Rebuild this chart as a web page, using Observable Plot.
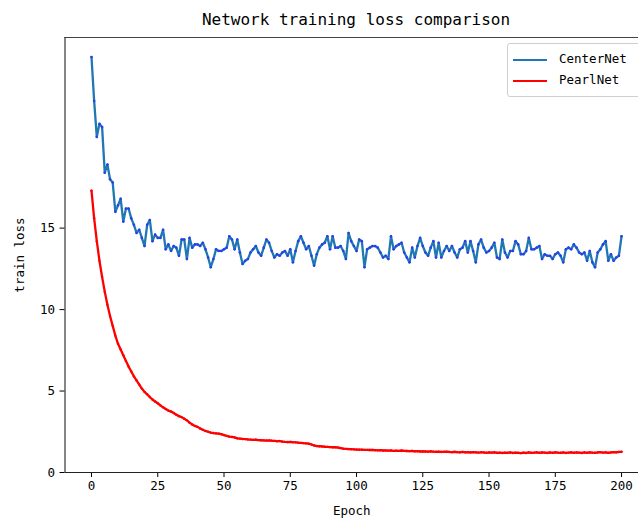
<!DOCTYPE html>
<html>
<head>
<meta charset="utf-8">
<script src="https://cdn.jsdelivr.net/npm/d3@7"></script>
<script src="https://cdn.jsdelivr.net/npm/@observablehq/plot@0.6"></script>
<style>
  html, body { margin: 0; padding: 0; background: #fff; }
  #wrap { position: relative; width: 638px; height: 520px; overflow: hidden; font-family: "DejaVu Sans Mono", monospace; }
  #title { position: absolute; left: 64px; width: 584px; top: 9px; text-align: center; font-size: 16px; line-height: 22px; color: #000; }
  #legend { position: absolute; left: 507px; top: 43px; width: 150px; height: 52px; border: 1px solid #cfcfcf; border-radius: 3px; background: rgba(255,255,255,0.85); font-size: 12.5px; }
  .item { position: absolute; left: 0; height: 20px; }
  .swatch { position: absolute; left: 5px; width: 34px; height: 2px; }
  .lab { position: absolute; left: 51px; top: -8px; line-height: 16px; white-space: nowrap; }
</style>
</head>
<body>
<div id="wrap">
  <div id="chart"></div>
  <div id="title"></div>
  <div id="legend"></div>
</div>
<script>
// ---- data ----
const titleText = "Network training loss comparison";
const xLabel = "Epoch";
const yLabel = "train loss";
const seriesNames = ["CenterNet", "PearlNet"];
const seriesColors = ["#1f77b4", "#ff0000"];
const xTicks = [0, 25, 50, 75, 100, 125, 150, 175, 200];
const yTicks = [0, 5, 10, 15];

const centerNetLoss = [
  25.5, 22.8, 20.6, 21.4, 21.2, 18.4, 18.9, 18.0, 17.8, 16.0,
  16.4, 16.8, 15.4, 16.2, 16.2, 15.6, 15.2, 14.7, 14.9, 14.4,
  13.9, 15.2, 15.5, 14.2, 14.6, 14.4, 14.4, 14.9, 13.7, 14.0,
  13.6, 13.9, 13.8, 13.3, 14.3, 14.3, 13.1, 14.4, 13.8, 14.0,
  14.0, 13.9, 14.1, 13.7, 13.2, 12.6, 13.1, 13.7, 13.6, 13.6,
  13.7, 13.8, 14.5, 14.3, 13.7, 14.3, 13.5, 12.8, 13.0, 13.1,
  13.5, 13.7, 13.9, 13.5, 13.3, 13.8, 14.3, 14.1, 13.6, 13.2,
  13.4, 13.3, 13.5, 13.6, 13.3, 13.7, 12.9, 13.6, 14.2, 14.5,
  14.1, 13.7, 13.9, 13.3, 12.7, 13.4, 13.8, 14.0, 14.1, 14.5,
  13.7, 14.5, 13.8, 13.8, 13.9, 13.6, 13.1, 14.7, 14.2, 13.9,
  13.6, 14.3, 14.2, 12.6, 13.7, 13.8, 13.9, 13.9, 13.8, 13.5,
  13.2, 13.3, 13.1, 14.5, 13.7, 13.9, 14.0, 14.1, 13.5, 13.2,
  12.9, 13.8, 13.2, 13.9, 14.4, 13.9, 13.5, 13.3, 13.8, 14.2,
  13.2, 14.1, 13.2, 13.6, 13.9, 13.6, 13.9, 13.5, 13.2, 13.7,
  13.8, 14.2, 13.5, 14.2, 13.6, 12.9, 14.0, 14.3, 13.8, 13.5,
  13.6, 13.8, 14.1, 13.2, 13.1, 14.3, 13.5, 13.2, 13.6, 13.6,
  14.2, 14.0, 13.4, 13.4, 13.6, 14.4, 13.7, 13.7, 13.8, 13.9,
  13.1, 13.4, 13.3, 13.3, 13.1, 13.4, 13.5, 13.3, 12.9, 13.7,
  13.8, 13.7, 14.0, 13.8, 13.5, 13.4, 13.5, 13.0, 13.6, 12.9,
  12.6, 13.5, 13.7, 14.0, 14.2, 13.0, 13.4, 13.0, 13.2, 13.3,
  14.5
];

const pearlNetLoss = [
  17.3, 15.6, 14.2, 13.0, 12.0, 11.1, 10.3, 9.6, 9.0, 8.4,
  7.9, 7.55, 7.2, 6.85, 6.5, 6.2, 5.9, 5.65, 5.4, 5.15,
  4.95, 4.8, 4.63, 4.48, 4.36, 4.25, 4.12, 4.0, 3.9, 3.8,
  3.74, 3.65, 3.55, 3.46, 3.4, 3.3, 3.2, 3.06, 2.95, 2.86,
  2.8, 2.7, 2.62, 2.55, 2.5, 2.45, 2.42, 2.4, 2.38, 2.35,
  2.3, 2.25, 2.2, 2.18, 2.15, 2.1, 2.08, 2.06, 2.05, 2.03,
  2.02, 2.0, 2.01, 1.99, 1.98, 1.97, 1.96, 1.97, 1.95, 1.94,
  1.92, 1.93, 1.9, 1.88, 1.87, 1.88, 1.86, 1.85, 1.83, 1.82,
  1.8, 1.79, 1.77, 1.72, 1.66, 1.62, 1.61, 1.6, 1.58, 1.57,
  1.56, 1.55, 1.55, 1.53, 1.5, 1.46, 1.45, 1.44, 1.43, 1.42,
  1.41, 1.4, 1.4, 1.39, 1.39, 1.38, 1.38, 1.37, 1.36, 1.37,
  1.35, 1.36, 1.34, 1.35, 1.33, 1.34, 1.33, 1.35, 1.33, 1.32,
  1.31, 1.32, 1.30, 1.31, 1.29, 1.30, 1.29, 1.28, 1.30, 1.28,
  1.27, 1.28, 1.26, 1.27, 1.28, 1.26, 1.25, 1.27, 1.25, 1.24,
  1.26, 1.24, 1.25, 1.23, 1.25, 1.24, 1.22, 1.24, 1.23, 1.21,
  1.23, 1.22, 1.24, 1.21, 1.22, 1.20, 1.22, 1.21, 1.23, 1.20,
  1.22, 1.21, 1.19, 1.22, 1.20, 1.23, 1.21, 1.22, 1.24, 1.21,
  1.23, 1.22, 1.20, 1.23, 1.21, 1.24, 1.22, 1.21, 1.23, 1.20,
  1.22, 1.24, 1.21, 1.23, 1.22, 1.20, 1.23, 1.21, 1.24, 1.22,
  1.21, 1.23, 1.25, 1.22, 1.24, 1.21, 1.23, 1.25, 1.24, 1.26,
  1.27
];

// ---- build table ----
const rows = [];
centerNetLoss.forEach((v, i) => rows.push({epoch: i, loss: v, series: seriesNames[0]}));
pearlNetLoss.forEach((v, i) => rows.push({epoch: i, loss: v, series: seriesNames[1]}));

const xDomain = [-10, 206.4];
const yDomain = [0, 26.7];
const fontFam = "DejaVu Sans Mono, monospace";

const chart = Plot.plot({
  width: 638,
  height: 520,
  marginLeft: 64.5,
  marginRight: 0,
  marginTop: 37,
  marginBottom: 48,
  style: {fontFamily: fontFam, fontSize: "12px", background: "transparent", color: "#000"},
  x: {domain: xDomain},
  y: {domain: yDomain},
  color: {domain: seriesNames, range: seriesColors},
  marks: [
    Plot.axisX({ticks: xTicks, tickSize: 5, tickPadding: 4, fontSize: 12.5, label: xLabel, labelAnchor: "center", labelArrow: "none", labelOffset: 42, stroke: "#000"}),
    Plot.axisY({ticks: yTicks, tickSize: 5, tickPadding: 5, fontSize: 12.5, label: yLabel, labelAnchor: "center", labelArrow: "none", labelOffset: 50, stroke: "#000"}),
    Plot.line(rows.filter(d => d.series === seriesNames[1]), {x: "epoch", y: "loss", stroke: "series", strokeWidth: 2.3}),
    Plot.dot(rows.filter(d => d.series === seriesNames[1]), {x: "epoch", y: "loss", r: 1.2, fill: "#ff0000", stroke: "none"}),
    Plot.line(rows.filter(d => d.series === seriesNames[0]), {x: "epoch", y: "loss", stroke: "series", strokeWidth: 2.3}),
    Plot.dot(rows.filter(d => d.series === seriesNames[0]), {x: "epoch", y: "loss", r: 1.3, fill: "#2a3cf0", stroke: "none"}),
    Plot.ruleY([yDomain[0]], {stroke: "#222", strokeWidth: 1.1}),
    Plot.ruleY([yDomain[1]], {stroke: "#444", strokeWidth: 1.1}),
    Plot.ruleX([xDomain[0]], {stroke: "#222", strokeWidth: 1.1})
  ]
});
document.getElementById("chart").appendChild(chart);

document.getElementById("title").textContent = titleText;

const legend = document.getElementById("legend");
seriesNames.forEach((name, i) => {
  const item = document.createElement("div");
  item.className = "item";
  item.style.top = (15 + i * 21) + "px";
  const sw = document.createElement("div");
  sw.className = "swatch";
  sw.style.background = seriesColors[i];
  const lab = document.createElement("div");
  lab.className = "lab";
  lab.textContent = name;
  item.appendChild(sw);
  item.appendChild(lab);
  legend.appendChild(item);
});
</script>
</body>
</html>
